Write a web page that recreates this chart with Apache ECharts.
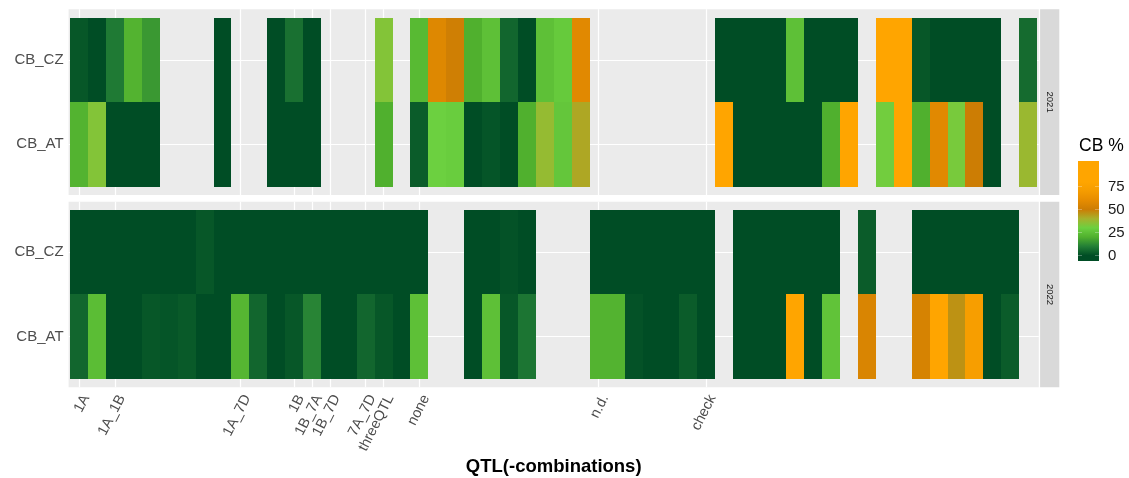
<!DOCTYPE html>
<html><head><meta charset="utf-8">
<script src="https://cdn.jsdelivr.net/npm/echarts@6/dist/echarts.min.js"></script>
<style>html,body{margin:0;padding:0;background:#fff}#c{width:1129px;height:478px}</style>
</head><body><div id="c"></div>
<script>
// ---------------- data ----------------
const years = ['2021', '2022'];
const rowNames = ['CB_AT', 'CB_CZ'];
const columnCount = 54;
const tickPositions = [0, 2, 9, 12, 13, 14, 16, 17, 19, 29, 35];
const tickLabels = ['1A', '1A_1B', '1A_7D', '1B', '1B_7A', '1B_7D', '7A_7D', 'threeQTL', 'none', 'n.d.', 'check'];
const _ = null;
const cz2021 = [2,0,9,21,15,_,_,_,0,_,  _,0,7,0,_,_,_,34,_,23,  57,51,20,25,5,0,25,28,58,_,  _,_,_,_,_,_,0,0,0,0,  25,0,0,0,_,85,85,2,0,0,  0,0,_,6];
const at2021 = [21,34,0,0,0,_,_,_,0,_,  _,0,0,0,_,_,_,20,_,3,  30,29,0,1.5,0,20,37,27,42,_,  _,_,_,_,_,_,85,0,0,0,  0,0,20,85,_,31,85,20,58,32,  50,0,_,38];
const cz2022 = [0,0,0,0,0,0,0,2,0,0,  0,0,0,0,0,0,0,0,0,0,  _,_,0,0,1,0,_,_,_,0,  0,0,0,0,0,0,_,0,0,0,  0,0,0,_,3,_,_,0,0,0,  0,0,0,_];
const at2022 = [5,24,0,0,2,1.5,2.5,0,0,22,  5,0,2,11,0,0,5,2,0,25,  _,_,0,25,2,8,_,_,_,21,  21,1,0,0,3,0,_,0,0,0,  85,0,26,_,55,_,_,54,85,46,  72,0,3,_];
const legendBreaks = [0, 25, 50, 75];
const colorRamp = ['#004d25','#237f36','#50b02e','#6cd040','#a6b22c','#cc7d04','#e68c00','#f59c00','#ffa500','#ffa500','#ffa500'];
const colorMin = 0, colorMax = 100;

// ---------------- layout ----------------
const FONT = 'Liberation Sans, Arial, sans-serif';
const panelLeft = 68.6, panelWidth = 970.2;
const panelTops = [9.2, 201.7];
const panelHeights = [185.8, 185.6];
const stripX = 1040.1, stripW = 19.2;

const yearRows = [[at2021, cz2021], [at2022, cz2022]];
function buildData(gi) {
  const out = [];
  yearRows[gi].forEach((vals, r) => {
    vals.forEach((v, c) => { if (v !== null) out.push([c, r, v]); });
  });
  return out;
}

function renderItem(params, api) {
  const x = api.value(0), y = api.value(1);
  const p0 = api.coord([x - 0.5, y + 0.5]);
  const p1 = api.coord([x + 0.5, y - 0.5]);
  const x0 = Math.round(p0[0]), y0 = Math.round(p0[1]);
  const x1 = Math.round(p1[0]), y1 = Math.round(p1[1]);
  return {
    type: 'rect',
    shape: { x: x0, y: y0, width: x1 - x0, height: y1 - y0 },
    style: { fill: api.visual('color') }
  };
}

const grids = years.map((y, gi) => ({
  left: panelLeft, width: panelWidth, top: panelTops[gi], height: panelHeights[gi],
  show: true, backgroundColor: '#EBEBEB', borderWidth: 0, containLabel: false, outerBoundsMode: 'none'
}));

const xAxes = years.map((y, gi) => {
  const showLab = gi === years.length - 1;
  return {
    type: 'value', gridIndex: gi, min: -0.6, max: columnCount - 1 + 0.6,
    axisLine: { show: false },
    axisTick: { show: showLab, length: 4, lineStyle: { color: '#333333', width: 1.1 }, customValues: tickPositions },
    axisLabel: {
      show: showLab, customValues: tickPositions, rotate: 63, margin: 5,
      verticalAlign: 'top', fontSize: 14.5, color: '#4D4D4D', fontFamily: FONT,
      formatter: v => { const i = tickPositions.indexOf(Math.round(v)); return i >= 0 ? tickLabels[i] : ''; }
    },
    splitLine: { show: true, lineStyle: { color: '#FFFFFF', width: 1.2 } }
  };
});

const yAxes = years.map((y, gi) => ({
  type: 'value', gridIndex: gi, min: -0.6, max: rowNames.length - 1 + 0.6,
  axisLine: { show: false },
  axisTick: { show: true, length: 4, lineStyle: { color: '#333333', width: 1.1 }, customValues: [0, 1] },
  axisLabel: {
    customValues: [0, 1], margin: 5, fontSize: 15, color: '#4D4D4D', fontFamily: FONT,
    formatter: v => rowNames[Math.round(v)] || ''
  },
  splitLine: { show: true, lineStyle: { color: '#FFFFFF', width: 1.2 } }
}));

const series = years.map((y, gi) => ({
  type: 'custom', name: y, xAxisIndex: gi, yAxisIndex: gi,
  data: buildData(gi), renderItem: renderItem, silent: true
}));

// legend (colour bar) geometry
const lgX = 1078, lgW = 21, lgTop = 161, lgBottom = 261;
const lgZeroY = 255.5, lgPxPerUnit = 0.92;
const valToY = v => lgZeroY - v * lgPxPerUnit;
const gradStops = [{ offset: 0, color: colorRamp[colorRamp.length - 1] }];
colorRamp.slice().reverse().forEach((c, k) => {
  const v = colorMax - k * (colorMax - colorMin) / (colorRamp.length - 1);
  gradStops.push({ offset: (valToY(v) - lgTop) / (lgBottom - lgTop), color: c });
});
gradStops.push({ offset: 1, color: colorRamp[0] });

const graphics = [];
years.forEach((y, gi) => {
  graphics.push({ type: 'rect', shape: { x: stripX, y: panelTops[gi], width: stripW, height: panelHeights[gi] }, style: { fill: '#D9D9D9' }, silent: true });
  graphics.push({ type: 'text', x: stripX + stripW / 2, y: panelTops[gi] + panelHeights[gi] / 2, rotation: -Math.PI / 2,
    style: { text: y, fill: '#1A1A1A', fontSize: 9.5, fontFamily: FONT, align: 'center', verticalAlign: 'middle' }, silent: true });
});
graphics.push({ type: 'text', x: lgX + 1, y: 146, style: { text: 'CB %', fill: '#000000', fontSize: 17.5, fontFamily: FONT, align: 'left', verticalAlign: 'middle' } });
graphics.push({ type: 'rect', shape: { x: lgX, y: lgTop, width: lgW, height: lgBottom - lgTop },
  style: { fill: { type: 'linear', x: 0, y: 0, x2: 0, y2: 1, colorStops: gradStops } } });
legendBreaks.forEach(b => {
  const yy = valToY(b);
  graphics.push({ type: 'line', shape: { x1: lgX, y1: yy, x2: lgX + 4, y2: yy }, style: { stroke: '#FFFFFF', lineWidth: 0.6, opacity: 0.5 } });
  graphics.push({ type: 'line', shape: { x1: lgX + lgW - 4, y1: yy, x2: lgX + lgW, y2: yy }, style: { stroke: '#FFFFFF', lineWidth: 0.6, opacity: 0.5 } });
  graphics.push({ type: 'text', x: 1108, y: yy, style: { text: String(b), fill: '#1A1A1A', fontSize: 15, fontFamily: FONT, align: 'left', verticalAlign: 'middle' } });
});
graphics.push({ type: 'text', x: panelLeft + panelWidth / 2, y: 467,
  style: { text: 'QTL(-combinations)', fill: '#000000', fontSize: 18.5, fontWeight: 'bold', fontFamily: FONT, align: 'center', verticalAlign: 'middle' } });

const chart = echarts.init(document.getElementById('c'), null, { renderer: 'canvas' });
chart.setOption({
  animation: false,
  backgroundColor: '#FFFFFF',
  grid: grids,
  xAxis: xAxes,
  yAxis: yAxes,
  visualMap: { type: 'continuous', show: false, min: colorMin, max: colorMax, dimension: 2, seriesIndex: [0, 1], inRange: { color: colorRamp } },
  series: series,
  graphic: graphics
});
</script></body></html>
